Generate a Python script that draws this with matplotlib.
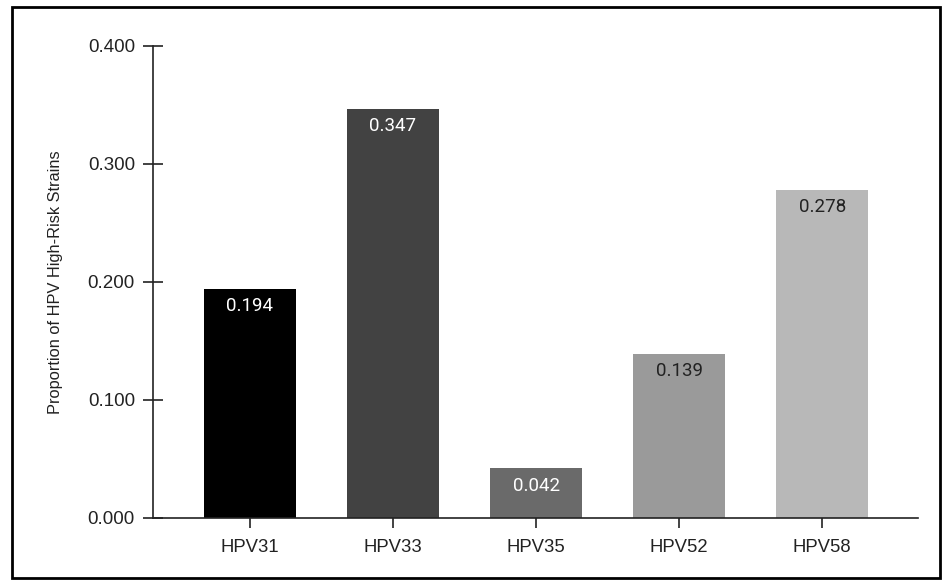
import matplotlib
matplotlib.use("Agg")
import matplotlib.pyplot as plt
from matplotlib.patches import Rectangle

categories = ["HPV31", "HPV33", "HPV35", "HPV52", "HPV58"]
values = [0.194, 0.347, 0.042, 0.139, 0.278]
colors = ["#000000", "#424242", "#6a6a6a", "#9a9a9a", "#b8b8b8"]
label_colors = ["white", "white", "white", "#222222", "#222222"]
yticks = [0.0, 0.1, 0.2, 0.3, 0.4]

W, H = 944, 583
fig = plt.figure(figsize=(W / 100, H / 100), dpi=100)
ax = fig.add_axes([153 / W, 1 - 518 / H, (918 - 153) / W, (518 - 46) / H])

x = list(range(len(categories)))
bars = ax.bar(x, values, width=0.645, color=colors, zorder=2)

for b, v, lc in zip(bars, values, label_colors):
    ax.annotate(f"{v:.3f}", (b.get_x() + b.get_width() / 2, v),
                xytext=(0, -12.5), textcoords="offset points",
                ha="center", va="center", color=lc, fontsize=13.5,
                family=["Roboto", "DejaVu Sans"])

ax.set_xlim(-0.678, 4.67)
ax.set_ylim(0, 0.4)
ax.set_yticks(yticks)
ax.set_yticklabels([f"{t:.3f}" for t in yticks], family=["Liberation Sans"], fontsize=13.5)
ax.set_xticks(x)
ax.set_xticklabels(categories, family=["Liberation Sans"], fontsize=13.3)
ax.tick_params(axis="both", direction="inout", length=14, width=1.2, color="#222222",
               labelcolor="#222222")
ax.tick_params(axis="y", pad=6)
ax.tick_params(axis="x", pad=8)
for s in ["top", "right"]:
    ax.spines[s].set_visible(False)
for s in ["left", "bottom"]:
    ax.spines[s].set_linewidth(1.2)
    ax.spines[s].set_color("#222222")
ax.set_ylabel("Proportion of HPV High-Risk Strains", family=["Liberation Sans"],
              fontsize=11.8, color="#222222", labelpad=18)

fig.patches.append(Rectangle((12 / W, 1 - 578 / H), (940 - 12) / W, (578 - 7) / H,
                             transform=fig.transFigure, fill=False,
                             edgecolor="black", linewidth=2))

fig.savefig("out.png", dpi=100)
